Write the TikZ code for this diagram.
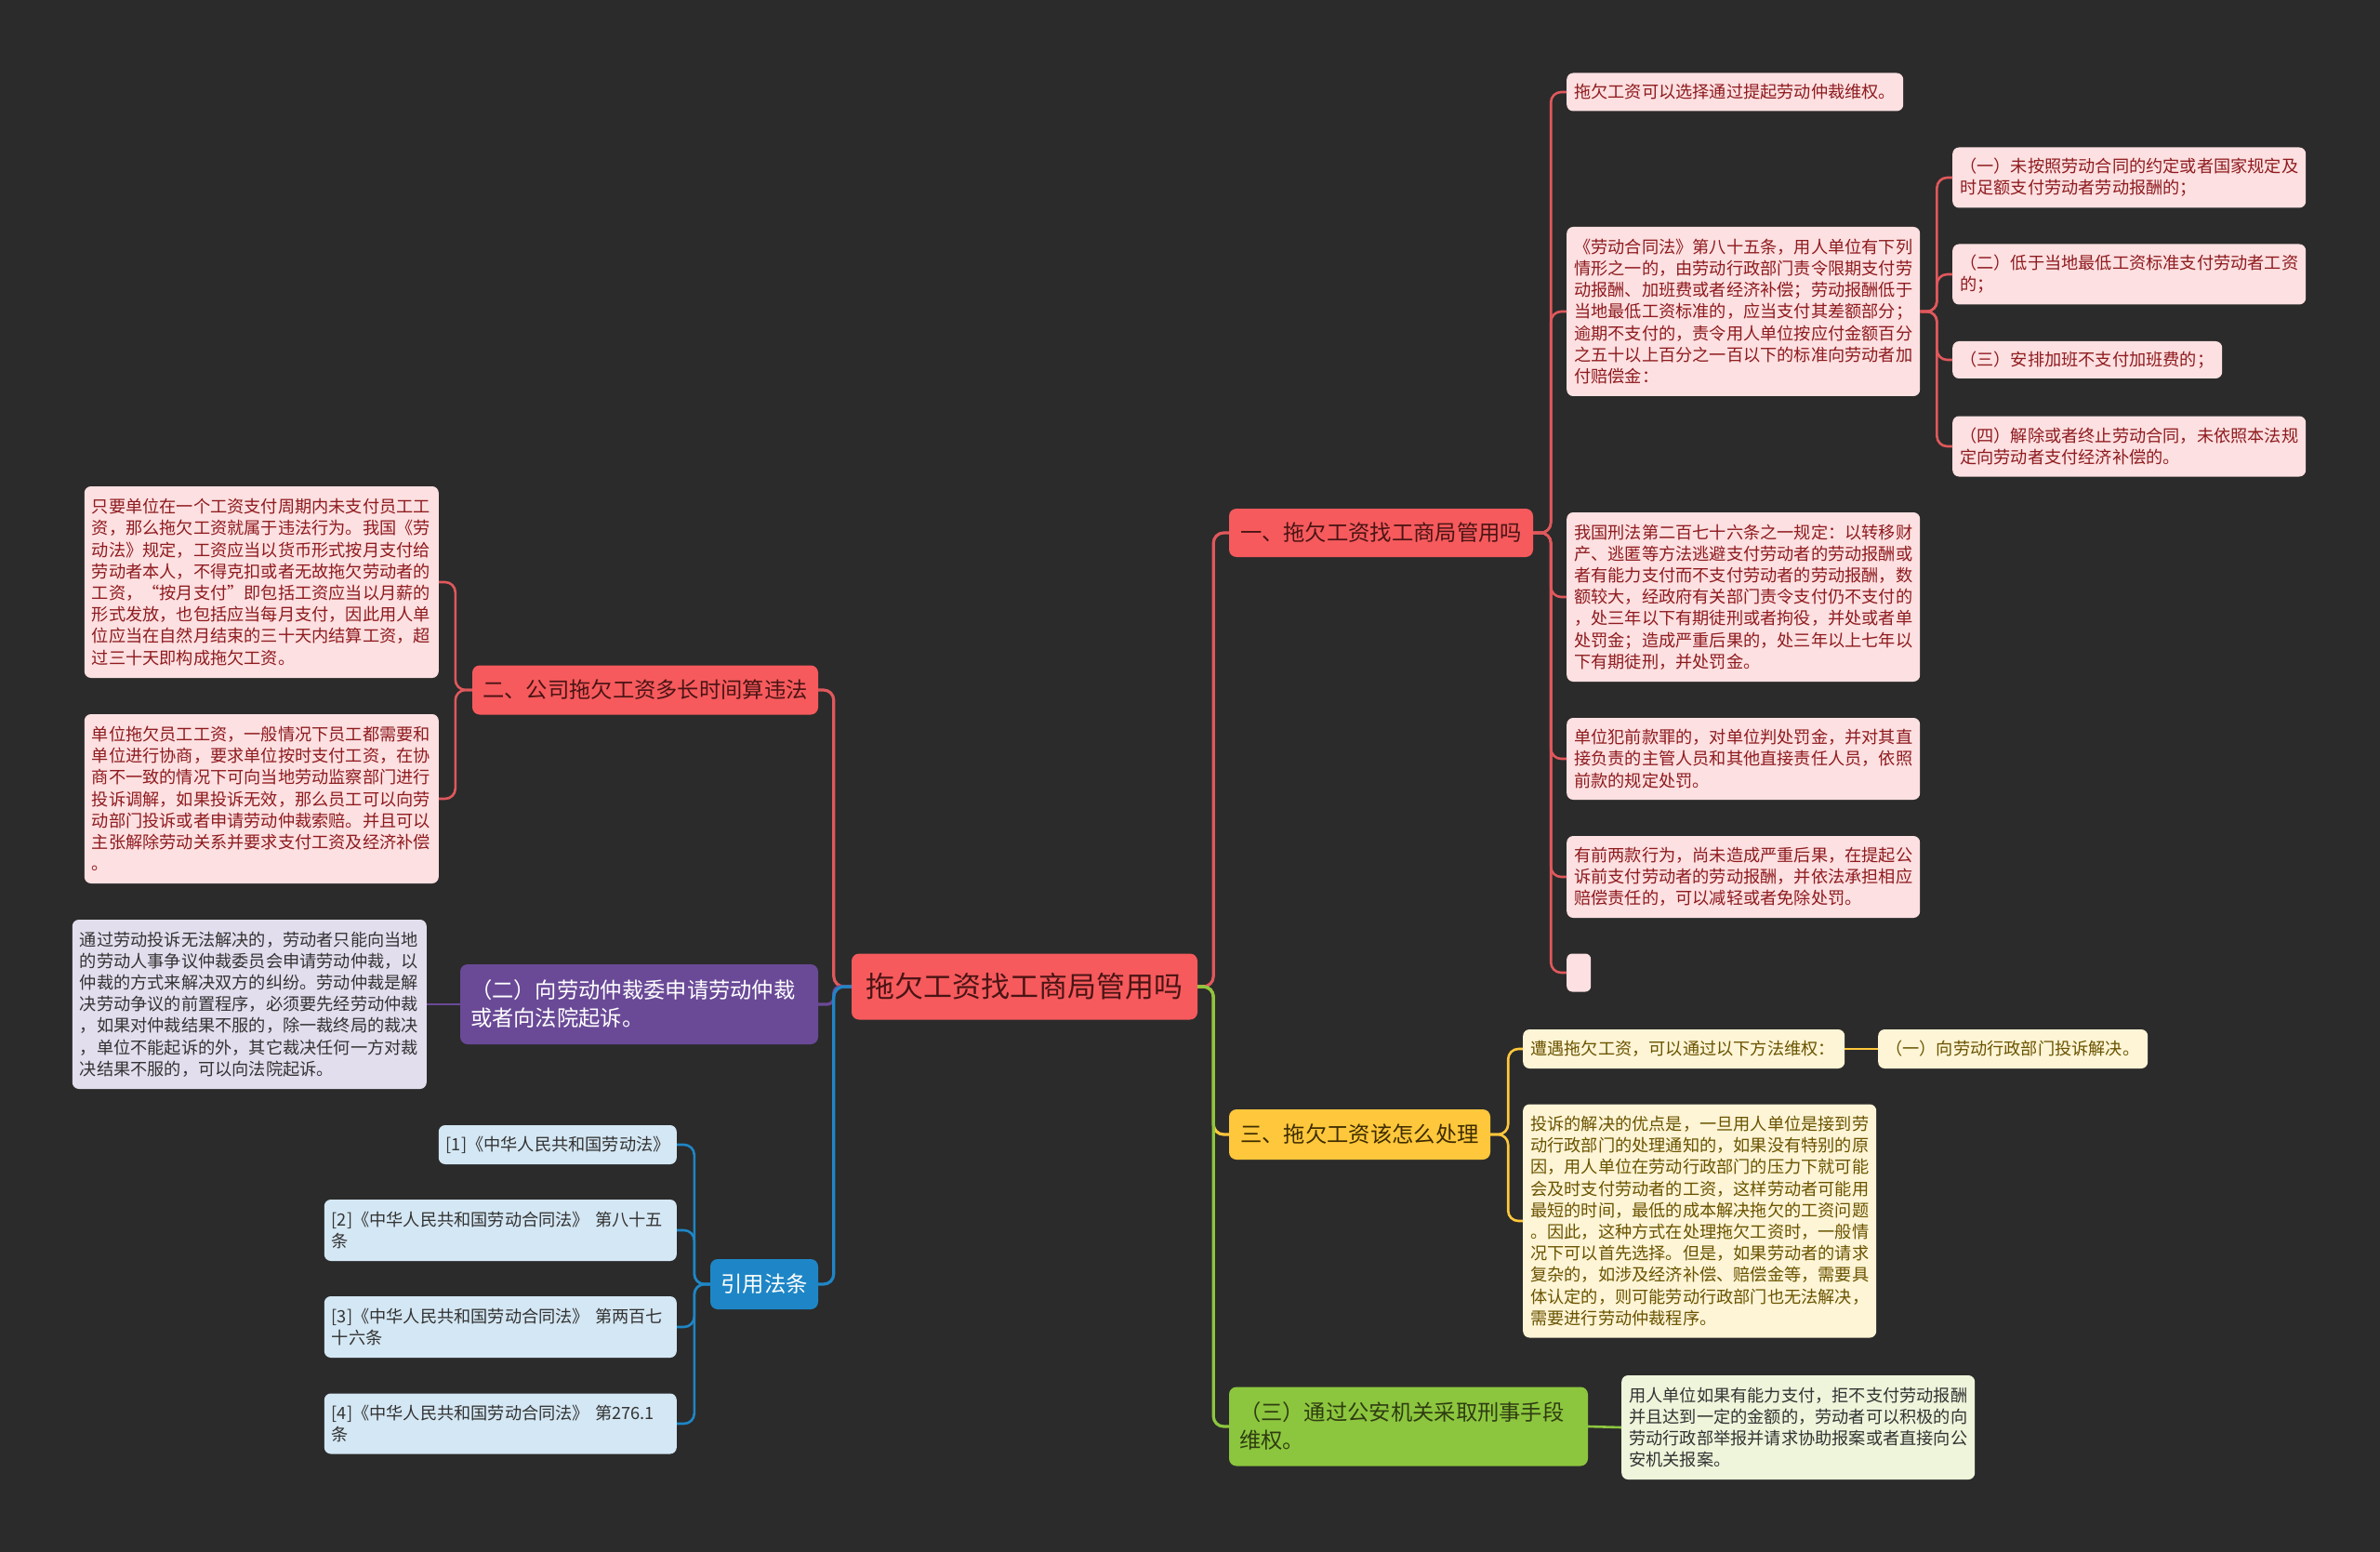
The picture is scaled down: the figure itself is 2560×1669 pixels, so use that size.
\documentclass[tikz,border=0pt]{standalone}
\usepackage{fontspec}
\newfontfamily\cjk{Noto Sans CJK SC}
\usetikzlibrary{calc}
\definecolor{bg}{HTML}{2B2B2B}
\definecolor{redfill}{HTML}{F65A5D}
\definecolor{redline}{HTML}{E0585C}
\definecolor{pinkfill}{HTML}{FDE0E1}
\definecolor{pinktext}{HTML}{8E1B1F}
\definecolor{darkred}{HTML}{4A1414}
\definecolor{purp}{HTML}{6A4A97}
\definecolor{purpfill}{HTML}{E3DEEE}
\definecolor{blu}{HTML}{1E86C6}
\definecolor{blufill}{HTML}{D4E7F4}
\definecolor{yel}{HTML}{FFC73B}
\definecolor{yelfill}{HTML}{FEF5D6}
\definecolor{yeltext}{HTML}{6A5300}
\definecolor{yeldark}{HTML}{3D2C00}
\definecolor{grn}{HTML}{8CC63E}
\definecolor{grnfill}{HTML}{EEF5DB}
\definecolor{grndark}{HTML}{2F3D12}
\definecolor{txt}{HTML}{333333}
\tikzset{
  boxbase/.style={rounded corners=7pt, inner xsep=8pt, inner ysep=2pt, align=left},
  leaffont/.style={font=\cjk\fontsize{18.2}{23.2}\selectfont},
  brfont/.style={font=\cjk\fontsize{23.3}{30}\selectfont},
  leafR/.style={boxbase, leaffont, fill=pinkfill, text=pinktext},
  leafP/.style={boxbase, leaffont, fill=purpfill, text=txt},
  leafB/.style={boxbase, leaffont, fill=blufill, text=txt},
  leafY/.style={boxbase, leaffont, fill=yelfill, text=yeltext},
  leafG/.style={boxbase, leaffont, fill=grnfill, text=txt},
  brbox/.style={rounded corners=8pt, inner xsep=11pt, inner ysep=2pt, brfont, align=left},
  conn/.style={line width=2.6pt, rounded corners=11pt},
  mainconn/.style={line width=3.2pt, rounded corners=11pt},
}
\begin{document}
\begin{tikzpicture}[x=1pt,y=-1pt]
\fill[bg] (0,0) rectangle (2560,1669);
\useasboundingbox (0,0) rectangle (2560,1669);

% root
\node[rounded corners=8pt, fill=redfill, text=darkred, font=\cjk\fontsize{31}{36}\selectfont,
  minimum width=372pt, minimum height=71pt, inner sep=2pt] (root) at (1102,1061) {拖欠工资找工商局管用吗};

% branches
\node[brbox, fill=redfill, text=darkred, minimum width=327pt, minimum height=52pt, align=center] (br1) at (1485.5,573) {一、拖欠工资找工商局管用吗};
\node[brbox, fill=redfill, text=darkred, minimum width=372pt, minimum height=53pt, align=center] (br2) at (694,742) {二、公司拖欠工资多长时间算违法};
\node[brbox, fill=purp, text=white, text width=363pt, minimum height=86pt] (pu) at (687.5,1080) {（二）向劳动仲裁委申请劳动仲裁\\或者向法院起诉。};
\node[brbox, fill=blu, text=white, minimum width=116pt, minimum height=54pt, align=center] (yy) at (822,1381) {引用法条};
\node[brbox, fill=yel, text=yeldark, minimum width=281pt, minimum height=54pt, align=center] (br3) at (1462.5,1220) {三、拖欠工资该怎么处理};
\node[brbox, fill=grn, text=grndark, text width=364pt, minimum height=85pt] (gr) at (1515,1534) {（三）通过公安机关采取刑事手段\\维权。};

% right red leaves
\node[leafR, anchor=west, text width=346pt, minimum height=41pt] (a1) at (1685,99) {拖欠工资可以选择通过提起劳动仲裁维权。};
\node[leafR, anchor=west, text width=364pt, minimum height=182pt] (a2) at (1685,335) {《劳动合同法》第八十五条，用人单位有下列\\情形之一的，由劳动行政部门责令限期支付劳\\动报酬、加班费或者经济补偿；劳动报酬低于\\当地最低工资标准的，应当支付其差额部分；\\逾期不支付的，责令用人单位按应付金额百分\\之五十以上百分之一百以下的标准向劳动者加\\付赔偿金：};
\node[leafR, anchor=west, text width=364pt, minimum height=65pt] (k1) at (2100,191) {（一）未按照劳动合同的约定或者国家规定及\\时足额支付劳动者劳动报酬的；};
\node[leafR, anchor=west, text width=364pt, minimum height=65pt] (k2) at (2100,295) {（二）低于当地最低工资标准支付劳动者工资\\的；};
\node[leafR, anchor=west, text width=274pt, minimum height=40pt] (k3) at (2100,387) {（三）安排加班不支付加班费的；};
\node[leafR, anchor=west, text width=364pt, minimum height=65pt] (k4) at (2100,480) {（四）解除或者终止劳动合同，未依照本法规\\定向劳动者支付经济补偿的。};
\node[leafR, anchor=west, text width=364pt, minimum height=182pt] (a3) at (1685,642) {我国刑法第二百七十六条之一规定：以转移财\\产、逃匿等方法逃避支付劳动者的劳动报酬或\\者有能力支付而不支付劳动者的劳动报酬，数\\额较大，经政府有关部门责令支付仍不支付的\\，处三年以下有期徒刑或者拘役，并处或者单\\处罚金；造成严重后果的，处三年以上七年以\\下有期徒刑，并处罚金。};
\node[leafR, anchor=west, text width=364pt, minimum height=88pt] (a4) at (1685,816) {单位犯前款罪的，对单位判处罚金，并对其直\\接负责的主管人员和其他直接责任人员，依照\\前款的规定处罚。};
\node[leafR, anchor=west, text width=364pt, minimum height=88pt] (a5) at (1685,943) {有前两款行为，尚未造成严重后果，在提起公\\诉前支付劳动者的劳动报酬，并依法承担相应\\赔偿责任的，可以减轻或者免除处罚。};
\node[rounded corners=6pt, fill=pinkfill, anchor=west, inner sep=0pt, minimum width=26pt, minimum height=41pt] (a6) at (1685,1046) {};

% left red leaves
\node[leafR, anchor=east, text width=365pt, minimum height=206pt] (c1) at (472,626) {只要单位在一个工资支付周期内未支付员工工\\资，那么拖欠工资就属于违法行为。我国《劳\\动法》规定，工资应当以货币形式按月支付给\\劳动者本人，不得克扣或者无故拖欠劳动者的\\工资，“按月支付”即包括工资应当以月薪的\\形式发放，也包括应当每月支付，因此用人单\\位应当在自然月结束的三十天内结算工资，超\\过三十天即构成拖欠工资。};
\node[leafR, anchor=east, text width=365pt, minimum height=182pt] (c2) at (472,859) {单位拖欠员工工资，一般情况下员工都需要和\\单位进行协商，要求单位按时支付工资，在协\\商不一致的情况下可向当地劳动监察部门进行\\投诉调解，如果投诉无效，那么员工可以向劳\\动部门投诉或者申请劳动仲裁索赔。并且可以\\主张解除劳动关系并要求支付工资及经济补偿\\。};

% purple leaf
\node[leafP, anchor=east, text width=365pt, minimum height=182pt] (d1) at (459,1080) {通过劳动投诉无法解决的，劳动者只能向当地\\的劳动人事争议仲裁委员会申请劳动仲裁，以\\仲裁的方式来解决双方的纠纷。劳动仲裁是解\\决劳动争议的前置程序，必须要先经劳动仲裁\\，如果对仲裁结果不服的，除一裁终局的裁决\\，单位不能起诉的外，其它裁决任何一方对裁\\决结果不服的，可以向法院起诉。};

% blue leaves
\node[leafB, anchor=east, text width=240pt, minimum height=42pt] (e1) at (728,1231) {[1]《中华人民共和国劳动法》};
\node[leafB, anchor=east, text width=363pt, minimum height=66pt] (e2) at (728,1323) {[2]《中华人民共和国劳动合同法》~第八十五\\条};
\node[leafB, anchor=east, text width=363pt, minimum height=66pt] (e3) at (728,1427) {[3]《中华人民共和国劳动合同法》~第两百七\\十六条};
\node[leafB, anchor=east, text width=363pt, minimum height=65pt] (e4) at (728,1531) {[4]《中华人民共和国劳动合同法》~第276.1\\条};

% yellow leaves
\node[leafY, anchor=west, text width=330pt, minimum height=42pt] (f1) at (1638,1128) {遭遇拖欠工资，可以通过以下方法维权：};
\node[leafY, anchor=west, text width=274pt, minimum height=42pt] (f1a) at (2020,1128) {（一）向劳动行政部门投诉解决。};
\node[leafY, anchor=west, text width=364pt, minimum height=251pt] (f2) at (1638,1313) {投诉的解决的优点是，一旦用人单位是接到劳\\动行政部门的处理通知的，如果没有特别的原\\因，用人单位在劳动行政部门的压力下就可能\\会及时支付劳动者的工资，这样劳动者可能用\\最短的时间，最低的成本解决拖欠的工资问题\\。因此，这种方式在处理拖欠工资时，一般情\\况下可以首先选择。但是，如果劳动者的请求\\复杂的，如涉及经济补偿、赔偿金等，需要具\\体认定的，则可能劳动行政部门也无法解决，\\需要进行劳动仲裁程序。};

% green leaf
\node[leafG, anchor=west, text width=364pt, minimum height=112pt] (g1) at (1744,1535) {用人单位如果有能力支付，拒不支付劳动报酬\\并且达到一定的金额的，劳动者可以积极的向\\劳动行政部举报并请求协助报案或者直接向公\\安机关报案。};

% main connectors
\draw[mainconn, redline] (root.east) -- ++(17,0) |- (br1.west);
\draw[mainconn, yel] (root.east) -- ++(17,0) |- (br3.west);
\draw[mainconn, grn] (root.east) -- ++(17,0) |- (gr.west);
\draw[mainconn, redline] (root.west) -- ++(-19,0) |- (br2.east);
\draw[mainconn, purp, rounded corners=7pt] (root.west) -- ++(-19,0) |- (pu.east);
\draw[mainconn, blu] (root.west) -- ++(-19,0) |- (yy.east);

% branch 1 connectors
\foreach \n in {a1,a2,a3,a4,a5,a6} \draw[conn, redline] (br1.east) -- ++(19,0) |- (\n.west);
\foreach \n in {k1,k2,k3,k4} \draw[conn, redline] (a2.east) -- ++(18,0) |- (\n.west);
% branch 2
\foreach \n in {c1,c2} \draw[conn, redline] (br2.west) -- ++(-18,0) |- (\n.east);
% purple
\draw[conn, purp] (pu.west) -- (d1.east);
% blue
\foreach \n in {e1,e2,e3,e4} \draw[conn, blu] (yy.west) -- ++(-17,0) |- (\n.east);
% yellow
\foreach \n in {f1,f2} \draw[conn, yel] (br3.east) -- ++(19,0) |- (\n.west);
\draw[conn, yel] (f1.east) -- (f1a.west);
% green
\draw[conn, grn] (gr.east) -- (g1.west);
\end{tikzpicture}
\end{document}
